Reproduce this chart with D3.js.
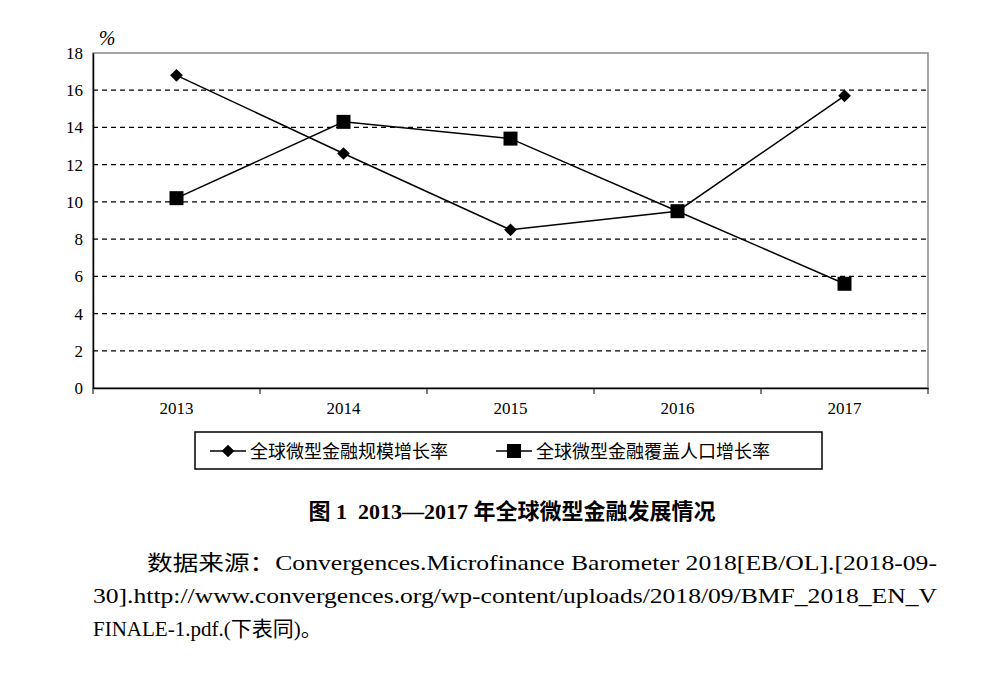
<!DOCTYPE html>
<html lang="zh">
<head>
<meta charset="UTF-8">
<title>全球微型金融发展情况</title>
<script src="https://cdn.jsdelivr.net/npm/d3@7"></script>
<style>
    body { margin: 0; background: #fff; }
    svg { display: block; font-family: "Liberation Serif", "Noto Sans CJK SC", serif; }
</style>
</head>
<body>
<svg id="chart" width="1000" height="678"></svg>
<script>
    // data
    var years = ['2013', '2014', '2015', '2016', '2017'];
    var scaleRate = [16.8, 12.6, 8.5, 9.5, 15.7];      // 全球微型金融规模增长率
    var coverRate = [10.2, 14.3, 13.4, 9.5, 5.6];      // 全球微型金融覆盖人口增长率
    var yTicks = [0, 2, 4, 6, 8, 10, 12, 14, 16, 18];
    var seriesNames = ['全球微型金融规模增长率', '全球微型金融覆盖人口增长率'];

    (function () {
    var svg = d3.select('#chart');
    var pL = 93, pR = 928, pT = 53, pB = 388;

    var x = d3.scaleBand().domain(years).range([pL, pR]);
    var y = d3.scaleLinear().domain([0, 18]).range([pB, pT]);

    // frame
    svg.append('rect').attr('x', pL).attr('y', pT)
        .attr('width', pR - pL).attr('height', pB - pT)
        .attr('fill', 'none').attr('stroke', '#888').attr('stroke-width', 1.5);

    // dashed grid
    svg.selectAll('.grid').data(yTicks.filter(function (d) { return d > 0 && d < 18; }))
        .enter().append('line')
        .attr('x1', pL).attr('x2', pR)
        .attr('y1', function (d) { return y(d); }).attr('y2', function (d) { return y(d); })
        .attr('stroke', '#000').attr('stroke-width', 1.2).attr('stroke-dasharray', '5,4');

    // axes
    var yAxis = svg.append('g').attr('transform', 'translate(' + pL + ',0)')
        .call(d3.axisLeft(y).tickValues(yTicks).tickSize(0).tickPadding(10));
    var xAxis = svg.append('g').attr('transform', 'translate(0,' + pB + ')')
        .call(d3.axisBottom(x).tickSize(0).tickPadding(14));
    [yAxis, xAxis].forEach(function (a) {
        a.select('.domain').attr('stroke', '#000').attr('stroke-width', 1.5);
        a.selectAll('text').attr('font-size', 17).attr('font-family', '"Liberation Serif", serif').attr('fill', '#000');
    });
    svg.selectAll('.xt').data(d3.range(years.length + 1)).enter().append('line')
        .attr('x1', function (i) { return pL + i * x.step(); })
        .attr('x2', function (i) { return pL + i * x.step(); })
        .attr('y1', pB).attr('y2', pB + 6).attr('stroke', '#000');

    svg.append('text').attr('x', 107).attr('y', 45).attr('text-anchor', 'middle')
        .attr('font-size', 20).attr('font-style', 'italic').text('%');

    var line = d3.line()
        .x(function (d, i) { return x(years[i]) + x.bandwidth() / 2; })
        .y(function (d) { return y(d); });

    function drawSeries(data, shape) {
        svg.append('path').datum(data).attr('d', line)
            .attr('fill', 'none').attr('stroke', '#000').attr('stroke-width', 1.5);
        svg.selectAll(null).data(data).enter().append('path')
            .attr('transform', function (d, i) {
                return 'translate(' + (x(years[i]) + x.bandwidth() / 2) + ',' + y(d) + ')' + (shape === 'd' ? ' rotate(45)' : '');
            })
            .attr('d', shape === 'd' ? 'M-4.5,-4.5H4.5V4.5H-4.5Z' : 'M-7,-7H7V7H-7Z')
            .attr('fill', '#000');
    }
    drawSeries(scaleRate, 'd');
    drawSeries(coverRate, 's');

    // legend
    var lg = svg.append('g');
    lg.append('rect').attr('x', 195).attr('y', 432).attr('width', 627).attr('height', 37)
        .attr('fill', 'none').attr('stroke', '#000').attr('stroke-width', 1.5);
    var items = [{x: 210, shape: 'd'}, {x: 496, shape: 's'}];
    items.forEach(function (it, i) {
        lg.append('line').attr('x1', it.x).attr('x2', it.x + 36).attr('y1', 451).attr('y2', 451)
            .attr('stroke', '#000').attr('stroke-width', 1.5);
        lg.append('path')
            .attr('transform', 'translate(' + (it.x + 18) + ',451)' + (it.shape === 'd' ? ' rotate(45)' : ''))
            .attr('d', it.shape === 'd' ? 'M-4.5,-4.5H4.5V4.5H-4.5Z' : 'M-7,-7H7V7H-7Z');
        lg.append('text').attr('x', it.x + 40).attr('y', 458).attr('font-size', 18)
            .attr('font-family', '"Noto Sans CJK SC"').text(seriesNames[i]);
    });

    // caption
    svg.append('text').attr('x', 512).attr('y', 519).attr('text-anchor', 'middle')
        .attr('font-size', 22).attr('font-weight', 'bold')
        .attr('font-family', '"Liberation Serif", "Noto Sans CJK SC", serif')
        .attr('xml:space', 'preserve')
        .text('图 1  2013—2017 年全球微型金融发展情况');

    var src = [
        {x: 147, y: 570, w: 790, t: '数据来源：Convergences.Microfinance Barometer 2018[EB/OL].[2018-09-'},
        {x: 93, y: 603, w: 844, t: '30].http://www.convergences.org/wp-content/uploads/2018/09/BMF_2018_EN_V'},
        {x: 93, y: 636, w: 0, t: 'FINALE-1.pdf.(下表同)。'}
    ];
    svg.selectAll('.src').data(src).enter().append('text')
        .attr('x', function (d) { return d.x; }).attr('y', function (d) { return d.y; })
        .attr('font-size', 21).attr('font-family', '"Liberation Serif", "Noto Sans CJK SC", serif')
        .each(function (d) {
            if (d.w) d3.select(this).attr('textLength', d.w).attr('lengthAdjust', 'spacingAndGlyphs');
        })
        .text(function (d) { return d.t; });
    })();
</script>
</body>
</html>
